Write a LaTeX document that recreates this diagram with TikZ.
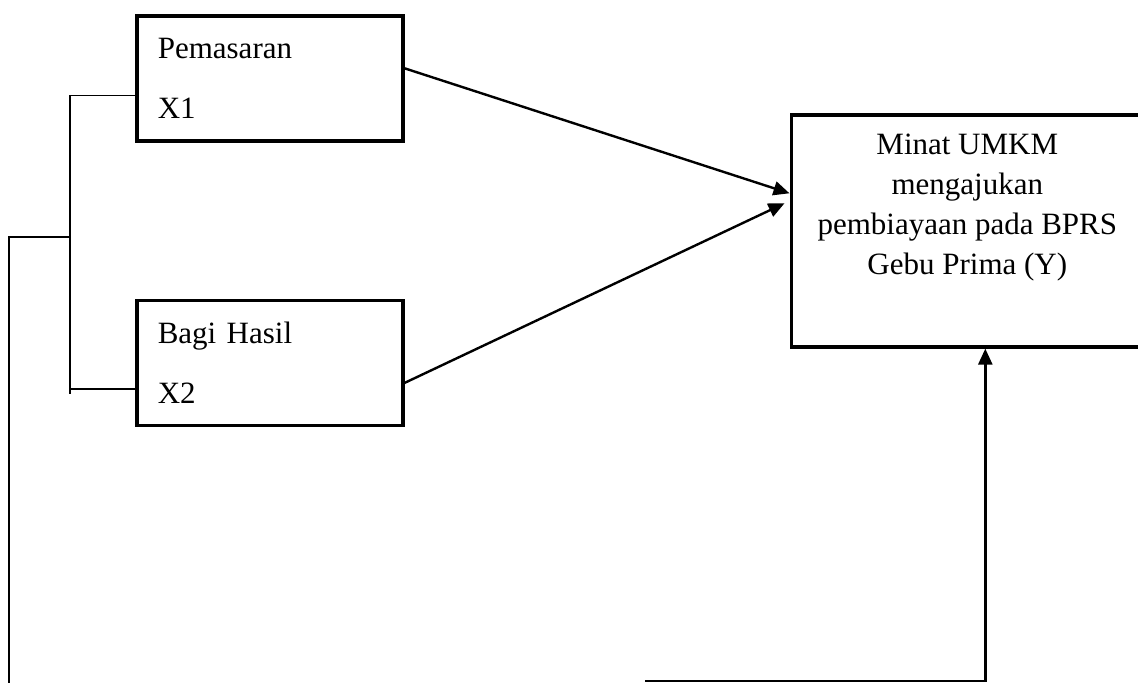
\documentclass[tikz,border=0pt]{standalone}
\usepackage{fontspec}
\setmainfont{Liberation Serif}
\usetikzlibrary{positioning, arrows.meta}
\definecolor{lineBlack}{HTML}{000000}

\begin{document}
\begin{tikzpicture}[x=0.5pt, y=-0.5pt, font=\fontsize{15.5}{20}\selectfont,
    varbox/.style={draw=lineBlack, line width=1.8pt, align=left, anchor=north west,
      inner xsep=10.5pt, text width=112pt, minimum width=133pt, minimum height=62.5pt},
    link/.style={-{Triangle[length=8pt, width=7pt]}, draw=lineBlack, line width=1.2pt},
    bracket/.style={draw=lineBlack, line width=0.8pt}]
    \useasboundingbox (0,0) rectangle (1138,682);
    \node[varbox] (x1) at (135,14) {Pemasaran\\[10pt]X1};
    \node[varbox, below=78pt of x1] (x2) {Bagi Hasil\\[10pt]X2};
    \node[draw=lineBlack, line width=1.8pt, anchor=north west, minimum width=176pt, minimum height=116pt] (y) at (789.5,113) {};
    \node[below=10.5pt of y.north, align=center, inner sep=0pt] (ytext) {Minat UMKM\\mengajukan\\pembiayaan pada BPRS\\Gebu Prima (Y)};
    \draw[link] ([yshift=5pt]x1.east) -- ([yshift=18.75pt]y.west);
    \draw[link] ([yshift=-10pt]x2.east) -- ([xshift=-2.5pt, yshift=13.75pt]y.west);
    % bracket on the left
    \draw[bracket] ([yshift=-8.5pt]x1.west) -- ++(-65,0) coordinate (brtop);
    \draw[bracket] ([yshift=-13pt]x2.west) -- ++(-65,0) coordinate (brbot);
    \draw[bracket] (brtop) -- ([yshift=-2.5pt]brbot);
    \coordinate (brmid) at (70,237);
    \coordinate (leftbot) at (9,684);
    \draw[bracket] (brmid) -- ++(-61,0) coordinate (leftcorner) -- (leftcorner |- leftbot);
    % return line to Y
    \coordinate (retstart) at (645,681);
    \draw[link] (retstart) -| ([xshift=9pt]y.south);
  \end{tikzpicture}
\end{document}
